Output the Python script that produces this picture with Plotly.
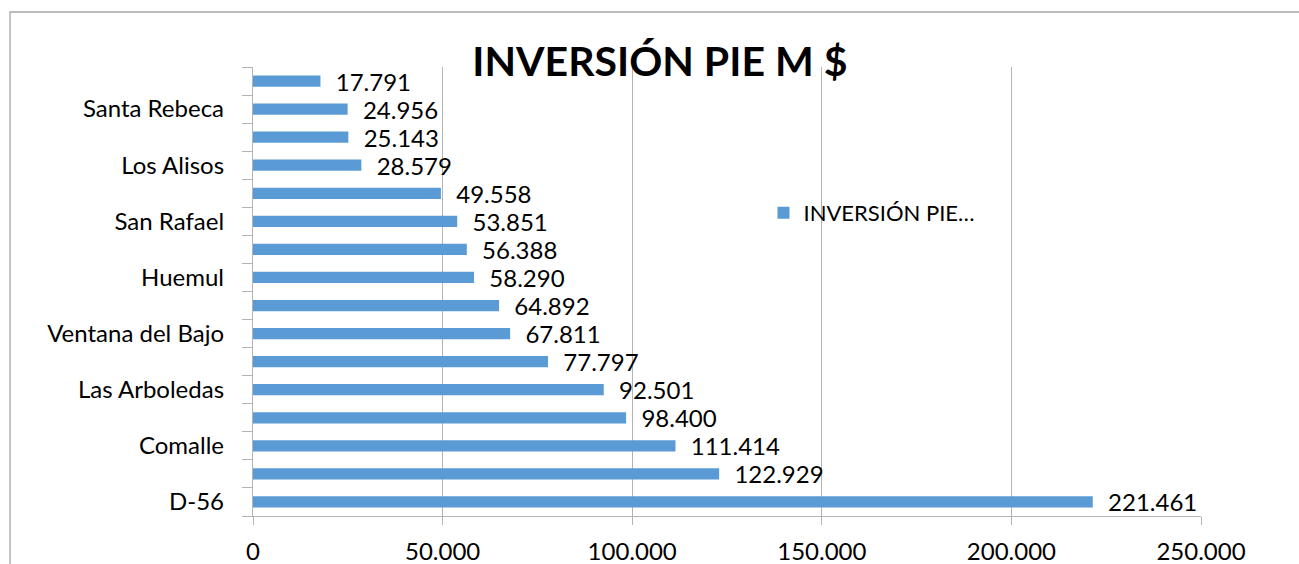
import plotly.graph_objects as go

# Bars listed bottom to top, as they appear in the chart
values = [221461, 122929, 111414, 98400, 92501, 77797, 67811, 64892,
          58290, 56388, 53851, 49558, 28579, 25143, 24956, 17791]
label_pos = [0, 2, 4, 6, 8, 10, 12, 14]
label_text = ['D-56', 'Comalle', 'Las Arboledas', 'Ventana del Bajo',
              'Huemul', 'San Rafael', 'Los Alisos', 'Santa Rebeca']
x_ticks = [0, 50000, 100000, 150000, 200000, 250000]
series_name = 'INVERSIÓN PIE…'
title_text = 'INVERSIÓN PIE M $'

FONT = 'Lato'
GRID = '#b3b3b3'

fig = go.Figure(go.Bar(
    x=values,
    y=list(range(len(values))),
    orientation='h',
    name=series_name,
    marker=dict(color='#5b9bd5', line=dict(width=0)),
    width=0.4,
    texttemplate='\u00a0\u00a0%{x:,.0f}',
    textposition='outside',
    constraintext='none',
    textfont=dict(family=FONT, size=24, color='black'),
    cliponaxis=False,
    showlegend=True,
))

fig.update_layout(
    width=1299, height=564,
    margin=dict(l=253, r=98, t=67, b=48),
    paper_bgcolor='white',
    plot_bgcolor='white',
    separators=',.',
    font=dict(family=FONT, size=24, color='black'),
    title=dict(text='<b>' + title_text + '</b>', x=0.508, xanchor='center',
               y=0.891, yanchor='middle',
               font=dict(family=FONT, size=41, color='black')),
    xaxis=dict(range=[0, 250000], tickvals=x_ticks, tickformat=',.0f',
               showgrid=True, gridcolor=GRID, gridwidth=1.3,
               showline=True, linecolor=GRID, linewidth=1.3,
               ticks='outside', ticklen=8, tickcolor=GRID,
               ticklabelstandoff=6, zeroline=False, automargin=False),
    yaxis=dict(range=[-0.5, len(values) - 0.5], tickvals=label_pos,
               ticktext=label_text, ticks='', showgrid=False,
               showline=True, linecolor=GRID, linewidth=1.3,
               ticklabelstandoff=23, zeroline=False, automargin=False,
               minor=dict(tick0=-0.5, dtick=1, ticks='outside',
                          ticklen=10, tickcolor=GRID, showgrid=False)),
    legend=dict(x=0.5385, y=0.675, xanchor='left', yanchor='middle',
                bgcolor='rgba(0,0,0,0)', font=dict(family=FONT, size=22),
                itemwidth=30),
    showlegend=True,
    bargap=0.6,
)

# outer chart border
fig.add_shape(type='rect', xref='paper', yref='paper',
              x0=-0.2563, x1=1.12, y0=-0.2, y1=1.1225,
              line=dict(color='#a6a6a6', width=1.3), fillcolor='rgba(0,0,0,0)',
              layer='below')

# drop the default page margin so the figure fills the window exactly
fig.write_html('out.html', config={'displayModeBar': False},
               post_script="document.body.style.margin='0';")
